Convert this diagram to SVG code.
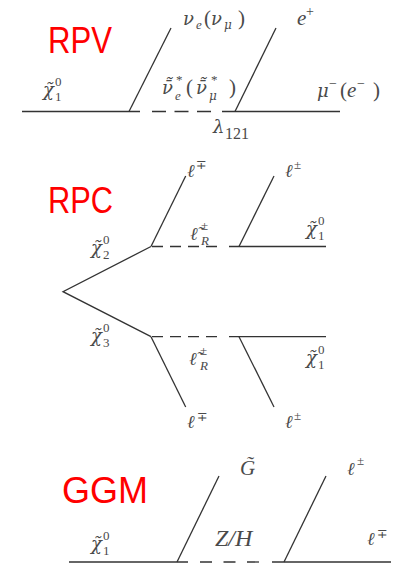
<svg xmlns="http://www.w3.org/2000/svg" width="393" height="565" viewBox="0 0 393 565">
<style>
.ln{stroke:#333;stroke-width:1.3;fill:none}
.d1{stroke-dasharray:14 8.5}
.d2{stroke-dasharray:11 7}
.d3{stroke-dasharray:12 11.5}
.m{font-family:"Liberation Serif","DejaVu Serif",serif;font-style:italic;font-size:21px;fill:#4a4a4a}
.g{font-family:"DejaVu Serif","Liberation Serif",serif;font-style:italic;font-size:18px}
.r{font-style:normal}
.s{font-size:13px}
.gs{font-family:"DejaVu Serif","Liberation Serif",serif;font-style:italic;font-size:12px}
.big{font-size:24px}
.red{font-family:"Liberation Sans",Arial,sans-serif;font-size:36px;fill:#ff0000}
</style>
<rect width="393" height="565" fill="#ffffff"/>
<g id="connectors">
<line class="ln" x1="22" y1="111.5" x2="140" y2="111.5"/>
<line class="ln d1" x1="152" y1="111.5" x2="211" y2="111.5"/>
<line class="ln" x1="222" y1="111.5" x2="340" y2="111.5"/>
<line class="ln" x1="129" y1="111.5" x2="171" y2="28"/>
<line class="ln" x1="235" y1="111.5" x2="276" y2="28"/>
<polyline class="ln" points="151,246.5 63,291.7 151,336.7"/>
<line class="ln d2" x1="152" y1="246.5" x2="217" y2="246.5"/>
<line class="ln" x1="229" y1="246.5" x2="326" y2="246.5"/>
<line class="ln" x1="151" y1="246.5" x2="185.7" y2="176"/>
<line class="ln" x1="239" y1="246.5" x2="274" y2="176"/>
<line class="ln d2" x1="152" y1="336.7" x2="217" y2="336.7"/>
<line class="ln" x1="229" y1="336.7" x2="326" y2="336.7"/>
<line class="ln" x1="151" y1="336.7" x2="185.7" y2="407"/>
<line class="ln" x1="239" y1="336.7" x2="274" y2="407"/>
<line class="ln" x1="69" y1="562" x2="188" y2="562"/>
<line class="ln d3" x1="200" y1="562" x2="259" y2="562"/>
<line class="ln" x1="272" y1="562" x2="391" y2="562"/>
<line class="ln" x1="177" y1="562" x2="219" y2="476"/>
<line class="ln" x1="284" y1="562" x2="326" y2="476"/>
</g>
<g id="rpv">
<text class="red" x="48" y="53" textLength="64" lengthAdjust="spacingAndGlyphs">RPV</text>
<text class="m"><tspan class="g" x="183" y="25">ν</tspan><tspan class="s" x="196" y="29">e</tspan><tspan class="r" x="204" y="25">(</tspan><tspan class="g" x="211" y="25">ν</tspan><tspan class="gs" x="224" y="29">μ</tspan><tspan class="r" x="238" y="25">)</tspan></text>
<text class="m"><tspan x="297" y="25">e</tspan><tspan class="r" font-size="14" x="306" y="16">+</tspan></text>
<text class="m"><tspan class="g" x="43" y="96">χ̃</tspan><tspan class="s r" x="55" y="86">0</tspan><tspan class="s r" x="55" y="101">1</tspan></text>
<text class="m"><tspan class="g" x="162" y="94">ν̄̃</tspan><tspan class="s r" x="176" y="84">*</tspan><tspan class="s" x="175" y="100">e</tspan><tspan class="r" x="186" y="94">(</tspan><tspan class="g" x="196" y="94">ν̄̃</tspan><tspan class="s r" x="211" y="84">*</tspan><tspan class="gs" x="209" y="100">μ</tspan><tspan class="r" x="229" y="94">)</tspan></text>
<text class="m"><tspan class="g" x="317" y="97">μ</tspan><tspan class="r" font-size="14" x="329" y="88">−</tspan><tspan class="r" x="340" y="97">(</tspan><tspan x="347" y="97">e</tspan><tspan class="r" font-size="14" x="357" y="88">−</tspan><tspan class="r" x="373" y="97">)</tspan></text>
<text class="m"><tspan class="g" x="213" y="133">λ</tspan><tspan class="r" font-size="16" x="225" y="139">121</tspan></text>
</g>
<g id="rpc">
<text class="red" x="48" y="213" textLength="65" lengthAdjust="spacingAndGlyphs">RPC</text>
<text class="m"><tspan class="g" x="187" y="177">ℓ</tspan><tspan class="s r" x="196" y="169">∓</tspan></text>
<text class="m"><tspan class="g" x="285" y="177">ℓ</tspan><tspan class="s r" x="294" y="169">±</tspan></text>
<text class="m"><tspan class="g" x="190" y="240">ℓ̃</tspan><tspan class="s r" x="201" y="230">±</tspan><tspan class="s" x="201" y="245">R</tspan></text>
<text class="m"><tspan class="g" x="306" y="235">χ̃</tspan><tspan class="s r" x="318" y="225">0</tspan><tspan class="s r" x="318" y="240">1</tspan></text>
<text class="m"><tspan class="g" x="91" y="254">χ̃</tspan><tspan class="s r" x="103" y="244">0</tspan><tspan class="s r" x="103" y="259">2</tspan></text>
<text class="m"><tspan class="g" x="91" y="342">χ̃</tspan><tspan class="s r" x="103" y="332">0</tspan><tspan class="s r" x="103" y="347">3</tspan></text>
<text class="m"><tspan class="g" x="189" y="365">ℓ̃</tspan><tspan class="s r" x="200" y="355">±</tspan><tspan class="s" x="200" y="370">R</tspan></text>
<text class="m"><tspan class="g" x="306" y="364">χ̃</tspan><tspan class="s r" x="318" y="354">0</tspan><tspan class="s r" x="318" y="369">1</tspan></text>
<text class="m"><tspan class="g" x="187" y="428">ℓ</tspan><tspan class="s r" x="197" y="421">∓</tspan></text>
<text class="m"><tspan class="g" x="285" y="428">ℓ</tspan><tspan class="s r" x="294" y="420">±</tspan></text>
</g>
<g id="ggm">
<text class="red" x="62" y="503">GGM</text>
<text class="m" x="240" y="475">G̃</text>
<text class="m"><tspan class="g" x="347" y="475">ℓ</tspan><tspan class="s r" x="357" y="465">±</tspan></text>
<text class="m"><tspan class="g" x="91" y="550">χ̃</tspan><tspan class="s r" x="103" y="540">0</tspan><tspan class="s r" x="103" y="555">1</tspan></text>
<text class="m big" x="215" y="546">Z/H</text>
<text class="m"><tspan class="g" x="367" y="545">ℓ</tspan><tspan class="s r" x="377" y="538">∓</tspan></text>
</g>
</svg>
